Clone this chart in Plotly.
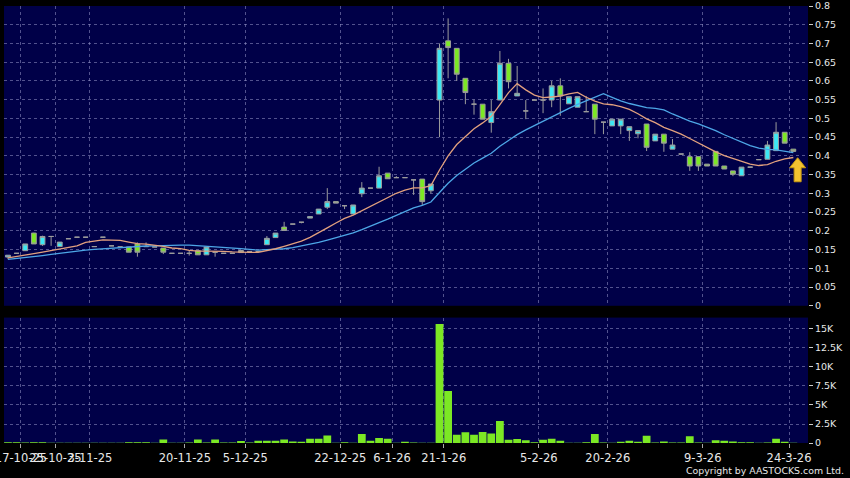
import plotly.graph_objects as go
import pandas as pd

# ---- data ----
opens = [0.130,0.140,0.147,0.194,0.163,0.185,0.158,0.179,0.183,0.183,
         0.158,0.183,0.160,0.157,0.157,0.165,0.158,0.157,0.154,0.140,
         0.140,0.140,0.147,0.136,0.143,0.140,0.140,0.1475,0.145,0.145,
         0.163,0.182,0.210,0.218,0.223,0.234,0.245,0.263,0.278,0.267,
         0.245,0.299,0.314,0.314,0.354,0.342,0.342,0.336,0.338,0.307,
         0.549,0.707,0.687,0.607,0.538,0.538,0.489,0.549,0.647,0.560,
         0.520,0.549,0.549,0.549,0.587,0.539,0.530,0.518,0.538,0.490,
         0.480,0.480,0.4675,0.459,0.485,0.440,0.458,0.418,0.405,0.398,
         0.398,0.378,0.412,0.373,0.360,0.347,0.370,0.390,0.391,0.414,
         0.463,0.418]
highs = [0.135,0.140,0.165,0.195,0.187,0.185,0.170,0.179,0.183,0.183,
         0.158,0.183,0.160,0.157,0.157,0.169,0.169,0.157,0.154,0.140,
         0.140,0.147,0.147,0.157,0.143,0.140,0.140,0.1475,0.145,0.145,
         0.186,0.194,0.224,0.218,0.223,0.238,0.258,0.314,0.278,0.267,
         0.269,0.330,0.314,0.371,0.354,0.346,0.342,0.336,0.338,0.325,
         0.700,0.767,0.687,0.607,0.550,0.538,0.549,0.680,0.659,0.640,
         0.549,0.549,0.580,0.600,0.607,0.558,0.558,0.560,0.538,0.490,
         0.498,0.498,0.478,0.4675,0.485,0.458,0.458,0.445,0.405,0.410,
         0.398,0.378,0.412,0.373,0.360,0.370,0.370,0.390,0.440,0.490,
         0.463,0.418]
lows = [0.124,0.140,0.147,0.165,0.160,0.160,0.158,0.179,0.183,0.183,
        0.158,0.183,0.160,0.157,0.143,0.131,0.158,0.157,0.138,0.140,
        0.140,0.134,0.136,0.136,0.131,0.140,0.140,0.142,0.145,0.145,
        0.163,0.182,0.201,0.218,0.220,0.234,0.245,0.258,0.274,0.258,
        0.245,0.290,0.314,0.314,0.339,0.342,0.342,0.296,0.269,0.300,
        0.450,0.607,0.600,0.538,0.510,0.498,0.462,0.549,0.580,0.560,
        0.498,0.549,0.514,0.530,0.507,0.539,0.530,0.518,0.458,0.458,
        0.480,0.458,0.440,0.447,0.413,0.440,0.411,0.418,0.405,0.360,
        0.360,0.373,0.373,0.365,0.346,0.347,0.370,0.390,0.391,0.414,
        0.434,0.412]
closes = [0.135,0.140,0.165,0.165,0.185,0.185,0.170,0.179,0.183,0.183,
          0.158,0.183,0.160,0.157,0.143,0.143,0.158,0.157,0.143,0.140,
          0.140,0.140,0.136,0.157,0.143,0.140,0.140,0.142,0.145,0.145,
          0.180,0.194,0.201,0.218,0.223,0.238,0.258,0.278,0.274,0.267,
          0.269,0.314,0.314,0.347,0.339,0.342,0.342,0.336,0.278,0.325,
          0.687,0.689,0.618,0.569,0.538,0.498,0.518,0.647,0.598,0.567,
          0.520,0.549,0.549,0.587,0.560,0.558,0.558,0.518,0.498,0.490,
          0.498,0.498,0.478,0.4675,0.423,0.458,0.434,0.429,0.405,0.373,
          0.373,0.373,0.373,0.365,0.351,0.370,0.370,0.390,0.429,0.463,
          0.434,0.412]
# volume in thousands
volumes = [0.10,0.10,0.05,0.10,0.10,0.02,0.02,0.02,0.02,0.02,
           0.02,0.02,0.02,0.02,0.10,0.10,0.10,0.02,0.45,0.02,
           0.02,0.05,0.45,0.05,0.45,0.05,0.05,0.25,0.05,0.30,
           0.30,0.30,0.45,0.20,0.15,0.55,0.55,1.00,0.02,0.10,
           0.02,1.20,0.30,0.65,0.55,0.02,0.15,0.05,0.02,0.02,
           15.66,6.84,1.10,1.41,1.10,1.46,1.24,2.90,0.44,0.53,
           0.35,0.10,0.44,0.57,0.30,0.02,0.02,0.10,1.20,0.05,
           0.02,0.15,0.30,0.15,0.97,0.05,0.20,0.05,0.05,0.88,
           0.05,0.02,0.35,0.30,0.20,0.10,0.10,0.02,0.05,0.57,
           0.15,0.02]
# moving-average lines as drawn at the left edge (before enough history)
ma10_head = [0.128,0.131,0.135,0.139,0.143,0.147,0.151,0.155,0.160]
ma20_head = [0.124,0.126,0.129,0.131,0.134,0.137,0.140,0.1445,0.1465,0.1485,
             0.1505,0.152,0.154,0.1555,0.1575,0.159,0.1595,0.160,0.161]

tick_idx = [1,5,9,20,27,38,44,50,61,69,80,90]
tick_labels = ["17-10-25","25-10-25","3-11-25","20-11-25","5-12-25","22-12-25",
               "6-1-26","21-1-26","5-2-26","20-2-26","9-3-26","24-3-26"]
price_ticks = [round(0.05*k, 2) for k in range(17)]
vol_ticks = [0, 2.5, 5, 7.5, 10, 12.5, 15]
vol_ticktext = ["0", "2.5K", "5K", "7.5K", "10K", "12.5K", "15K"]
last_price = 0.395  # where the marker arrow points

# ---- derived ----
n = len(closes)
xs = list(range(n))
s = pd.Series(closes)
ma10 = s.rolling(10).mean().tolist()
ma20 = s.rolling(20).mean().tolist()
ma10[:len(ma10_head)] = ma10_head
ma20[:len(ma20_head)] = ma20_head
tickvals = [t + 0.5 for t in tick_idx]

CYAN = "#3CE8F4"
LIME = "#7CE824"
GRID = "rgba(150,150,200,0.55)"
BG = "#000048"
TXT = "#E8E8E8"
FONT = "DejaVu Sans"

fig = go.Figure()
fig.add_trace(go.Scatter(x=xs, y=ma20, mode="lines",
                         line=dict(color="#4DA6E6", width=1.3),
                         xaxis="x", yaxis="y", hoverinfo="skip"))
fig.add_trace(go.Scatter(x=xs, y=ma10, mode="lines",
                         line=dict(color="#E2A07E", width=1.3),
                         xaxis="x", yaxis="y", hoverinfo="skip"))
fig.add_trace(go.Candlestick(x=xs, open=opens, high=highs, low=lows, close=closes,
                             increasing=dict(fillcolor=CYAN, line=dict(color="#9C9C9C", width=1)),
                             decreasing=dict(fillcolor=LIME, line=dict(color="#9C9C9C", width=1)),
                             whiskerwidth=0, xaxis="x", yaxis="y"))
fig.add_trace(go.Bar(x=xs, y=volumes, marker=dict(color=LIME, line=dict(width=0)),
                     xaxis="x2", yaxis="y2"))

xcommon = dict(range=[-0.46, 92.7], tickmode="array", tickvals=tickvals,
               showgrid=True, gridcolor=GRID, griddash="3px,3px", gridwidth=1,
               zeroline=False, showline=False, rangeslider=dict(visible=False),
               fixedrange=True, automargin=False)
fig.update_layout(
    width=850, height=478,
    margin=dict(l=4, r=42, t=6, b=34.5, autoexpand=False),
    paper_bgcolor="#000000", plot_bgcolor=BG,
    showlegend=False, boxgap=0.2, bargap=0.1,
    font=dict(family=FONT, color=TXT, size=11),
    xaxis=dict(anchor="y", showticklabels=False, ticks="", **xcommon),
    xaxis2=dict(anchor="y2", matches="x", ticktext=tick_labels, showticklabels=True,
                ticks="outside", ticklen=4, tickcolor="#AAAAAA", tickangle=0,
                ticklabeloverflow="allow",
                tickfont=dict(family=FONT, size=11.5, color=TXT), **xcommon),
    yaxis=dict(domain=[0.314, 1.0], range=[0, 0.8], side="right",
               tickmode="array", tickvals=price_ticks,
               ticktext=[("%g" % v) for v in price_ticks],
               ticks="outside", ticklen=4, tickcolor="#CCCCCC",
               tickfont=dict(family=FONT, size=9.5, color=TXT),
               showgrid=True, gridcolor=GRID, griddash="3px,3px",
               zeroline=False, showline=False, fixedrange=True, automargin=False),
    yaxis2=dict(domain=[0.0, 0.287], range=[0, 16.5], side="right",
                tickmode="array", tickvals=vol_ticks, ticktext=vol_ticktext,
                ticks="outside", ticklen=4, tickcolor="#CCCCCC",
                tickfont=dict(family=FONT, size=9.5, color=TXT),
                showgrid=True, gridcolor=GRID, griddash="3px,3px",
                zeroline=False, showline=False, fixedrange=True, automargin=False),
)

# gold block arrow under the last bar, built in data units
ax_c = n - 0.5
px_x = 1 / 8.63      # one pixel in x data units
px_y = 0.8 / 300     # one pixel in y data units
tip = last_price
path = (f"M {ax_c} {tip} "
        f"L {ax_c + 8*px_x} {tip - 10*px_y} "
        f"L {ax_c + 3.5*px_x} {tip - 10*px_y} "
        f"L {ax_c + 3.5*px_x} {tip - 24*px_y} "
        f"L {ax_c - 3.5*px_x} {tip - 24*px_y} "
        f"L {ax_c - 3.5*px_x} {tip - 10*px_y} "
        f"L {ax_c - 8*px_x} {tip - 10*px_y} Z")
fig.add_shape(type="path", path=path, xref="x", yref="y",
              fillcolor="#F2C230", line=dict(color="#C89A10", width=1))

fig.add_annotation(x=1.047, y=-0.063, xref="paper", yref="paper",
                   text="Copyright by AASTOCKS.com Ltd.", showarrow=False,
                   xanchor="right", yanchor="middle",
                   font=dict(family=FONT, size=9.4, color=TXT))
fig.write_html("out.html",
               config={"displayModeBar": False, "staticPlot": True},
               post_script="document.body.style.margin='0';"
                           "document.body.style.background='#000';")
